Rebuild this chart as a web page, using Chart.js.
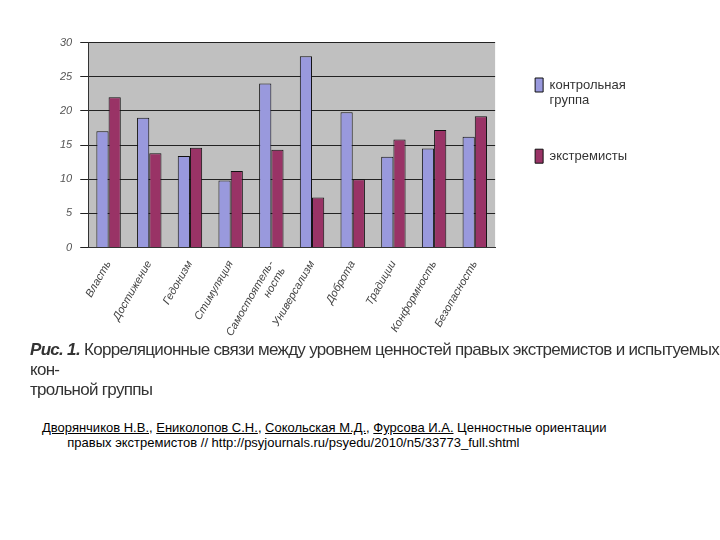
<!DOCTYPE html>
<html><head><meta charset="utf-8">
<script src="https://cdn.jsdelivr.net/npm/chart.js"></script>
<style>
body{margin:0;width:720px;height:540px;background:#fff;position:relative;font-family:"Liberation Sans",Arial,sans-serif}
#wrap{position:absolute;left:52px;top:28px;width:585px;height:320px}
#cap{position:absolute;left:30px;top:340px;font-size:17px;color:#333;width:690px;line-height:20px;letter-spacing:-0.7px;font-family:"Liberation Sans Narrow","Liberation Sans",sans-serif}
#cap b{font-style:italic}
#ref{position:absolute;left:42px;top:420px;font-size:13px;color:#000;width:660px;line-height:15px}
#ref a{color:#000;text-decoration:underline}
</style></head><body>
<div id="wrap"><canvas id="c"></canvas></div>
<div id="cap"><b>Рис. 1.</b> Корреляционные связи между уровнем ценностей правых экстремистов и испытуемых кон-<br>трольной группы</div>
<div id="ref"><a>Дворянчиков Н.В.</a>, <a>Ениколопов С.Н.</a>, <a>Сокольская М.Д.</a>, <a>Фурсова И.А.</a> Ценностные ориентации<br>&nbsp;&nbsp;&nbsp;&nbsp;&nbsp;&nbsp;&nbsp;правых экстремистов // http://psyjournals.ru/psyedu/2010/n5/33773_full.shtml</div>
<script>
const categories = ['Власть','Достижение','Гедонизм','Стимуляция',['Самостоятель-','ность'],'Универсализм','Доброта','Традиции','Конформность','Безопасность'];
const controlGroup = [17, 19, 13.4, 9.8, 24, 28, 19.8, 13.3, 14.5, 16.2];
const extremists = [22, 13.8, 14.6, 11.2, 14.3, 7.3, 10, 15.8, 17.2, 19.2];
const yTicks = [0,5,10,15,20,25,30];

const bgPlugin = {id:'bg', beforeDraw(ch){const a=ch.chartArea,c=ch.ctx;c.save();c.fillStyle='#c0c0c0';c.fillRect(a.left,a.top,a.right-a.left,a.bottom-a.top);c.restore();}};

new Chart(document.getElementById('c'),{
  type:'bar',
  data:{labels:categories,datasets:[
    {label:['контрольная','группа'],data:controlGroup,backgroundColor:'#9999dd',borderColor:'#111',borderWidth:1,categoryPercentage:0.6,barPercentage:1},
    {label:'экстремисты',data:extremists,backgroundColor:'#993366',borderColor:'#111',borderWidth:1,categoryPercentage:0.6,barPercentage:1}
  ]},
  options:{responsive:true,maintainAspectRatio:false,animation:false,
    layout:{padding:{top:10}},
    plugins:{legend:{position:'right',align:'start',labels:{boxWidth:8,boxHeight:14,padding:40,color:'#333',font:{size:13,family:'Liberation Sans'}}},tooltip:{enabled:false}},
    scales:{
      x:{grid:{display:false},border:{color:'#333'},ticks:{maxRotation:60,minRotation:60,color:'#444',font:{size:11,style:'italic'}}},
      y:{min:0,max:30,afterBuildTicks(s){s.ticks=yTicks.map(v=>({value:v}));},grid:{color:'#222'},border:{color:'#333'},ticks:{color:'#555',padding:8,font:{size:11,style:'italic'}}}
    }},
  plugins:[bgPlugin]
});
</script></body></html>
